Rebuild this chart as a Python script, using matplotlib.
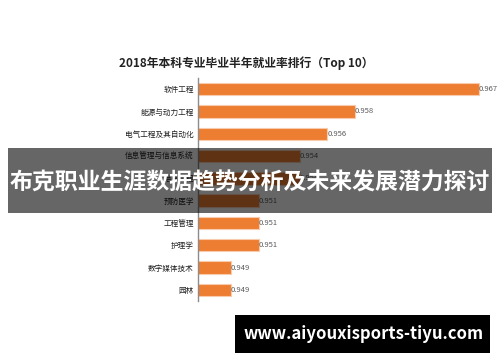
import matplotlib
matplotlib.use('Agg')
import matplotlib.pyplot as plt
from matplotlib.patches import Rectangle

plt.rcParams['font.family'] = ['Noto Sans CJK SC', 'DejaVu Sans']

majors = ['软件工程', '能源与动力工程', '电气工程及其自动化', '信息管理与信息系统', '信息工程',
          '预防医学', '工程管理', '护理学', '数字媒体技术', '园林']
rates = [0.967, 0.958, 0.956, 0.954, 0.954, 0.951, 0.951, 0.951, 0.949, 0.949]

fig = plt.figure(figsize=(5, 3.62), dpi=100)
ax = fig.add_axes([0.396, 0.1685, 0.584, 0.616])

ypos = list(range(len(majors)))
ax.barh(ypos, rates, height=0.56, color='#ED7D31', edgecolor='#F8CBAD', linewidth=0.8)
for y, v in zip(ypos, rates):
    ax.text(v, y, '%.3f' % v, va='center', ha='left', fontsize=5.5, color='#595959')

ax.set_xlim(0.9466, 0.9678)
ax.set_ylim(len(majors) - 0.5, -0.5)
ax.set_yticks(ypos)
ax.set_yticklabels(majors, fontsize=5.5, color='#222222')
ax.tick_params(axis='y', length=0, pad=3)
ax.set_xticks([])
for s in ['top', 'right', 'bottom']:
    ax.spines[s].set_visible(False)
ax.spines['left'].set_color('#8c8c8c')
ax.spines['left'].set_linewidth(1.0)

fig.text(0.492, 1 - 63 / 362, '2018年本科专业毕业半年就业率排行（Top 10）',
         ha='center', va='center', fontsize=8.5, fontweight='bold', color='#222222')

# overlay banner
fig.patches.append(Rectangle((8 / 500, 1 - 213 / 362), 484 / 500, 65 / 362,
                             transform=fig.transFigure, facecolor='black', alpha=0.6,
                             edgecolor='none', zorder=5))
fig.text(0.5, 1 - 183 / 362, '布克职业生涯数据趋势分析及未来发展潜力探讨',
         ha='center', va='center', fontsize=16.5, fontweight='bold', color='white', zorder=6)

# watermark
fig.patches.append(Rectangle((235 / 500, 1 - 353 / 362), 255 / 500, 38 / 362,
                             transform=fig.transFigure, facecolor='black',
                             edgecolor='none', zorder=5))
fig.text(364 / 500, 1 - 334 / 362, 'www.aiyouxisports-tiyu.com',
         ha='center', va='center', fontsize=12, fontweight='bold', color='white', zorder=6)

fig.savefig('out.png', dpi=100)
